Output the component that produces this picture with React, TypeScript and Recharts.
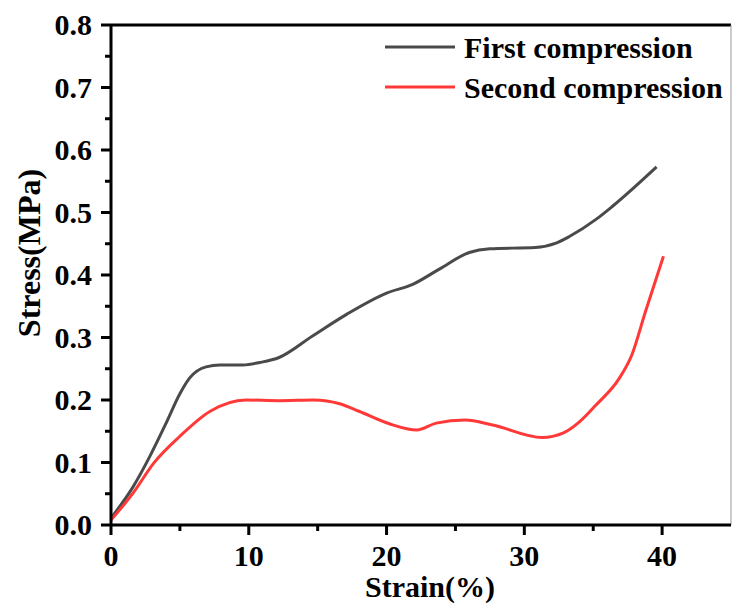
import React from 'react';
import { LineChart, Line, XAxis, YAxis, Legend, ReferenceLine } from 'recharts';

// strain (%) / stress (MPa)
const firstStrain = [0, 1.6, 2.8, 4.0, 5.0, 5.7, 6.9, 7.9, 9.6, 10.8, 12.2, 14.6, 17.1, 20.0, 21.9, 23.8, 26.0, 27.5, 30.8, 32.3, 33.3, 35.2, 36.4, 39.6];
const firstStress = [0.011, 0.061, 0.109, 0.163, 0.21, 0.235, 0.253, 0.256, 0.256, 0.26, 0.268, 0.302, 0.337, 0.371, 0.385, 0.409, 0.436, 0.442, 0.444, 0.451, 0.462, 0.489, 0.51, 0.573];

const secondStrain = [0, 1.6, 3.1, 5.0, 7.2, 9.8, 12.2, 14.7, 16.6, 18.0, 20.2, 22.2, 23.6, 25.7, 27.7, 31.3, 32.8, 34.0, 35.2, 36.9, 37.8, 38.8, 40.1];
const secondStress = [0.008, 0.051, 0.099, 0.142, 0.182, 0.2, 0.199, 0.2, 0.194, 0.182, 0.162, 0.152, 0.163, 0.168, 0.16, 0.14, 0.147, 0.165, 0.192, 0.235, 0.272, 0.342, 0.43];

const xTicks = [0, 5, 10, 15, 20, 25, 30, 35, 40];
const yTicks = [0, 0.05, 0.1, 0.15, 0.2, 0.25, 0.3, 0.35, 0.4, 0.45, 0.5, 0.55, 0.6, 0.65, 0.7, 0.75, 0.8];

const firstData = firstStrain.map((x, i) => ({ x, y: firstStress[i] }));
const secondData = secondStrain.map((x, i) => ({ x, y: secondStress[i] }));

const FONT = '"Liberation Serif", "Times New Roman", serif';
const BLACK_LINE = '#4a4a4a';
const RED_LINE = '#ff3838';

const XTick = (props: any) => {
  const { x, y, payload } = props;
  const major = payload.value % 10 === 0;
  return (
    <g>
      <line x1={x} y1={y} x2={x} y2={y + (major ? 10 : 6)} stroke="#000" strokeWidth={3} />
      {major && (
        <text x={x} y={y + 41} textAnchor="middle" fontFamily={FONT} fontWeight="bold" fontSize={30} fill="#000">
          {payload.value}
        </text>
      )}
    </g>
  );
};

const YTick = (props: any) => {
  const { x, y, payload } = props;
  const major = Math.round(payload.value * 100) % 10 === 0;
  return (
    <g>
      <line x1={x} y1={y} x2={x - (major ? 10 : 6)} y2={y} stroke="#000" strokeWidth={3} />
      {major && (
        <text x={x - 19} y={y + 10} textAnchor="end" fontFamily={FONT} fontWeight="bold" fontSize={30} fill="#000">
          {payload.value.toFixed(1)}
        </text>
      )}
    </g>
  );
};

const LegendBox = () => (
  <svg width={732} height={120}>
    <line x1={385} y1={47} x2={455} y2={47} stroke={BLACK_LINE} strokeWidth={3} />
    <text x={464} y={58} fontFamily={FONT} fontWeight="bold" fontSize={30} fill="#000">First compression</text>
    <line x1={385} y1={87} x2={455} y2={87} stroke={RED_LINE} strokeWidth={3} />
    <text x={464} y={98} fontFamily={FONT} fontWeight="bold" fontSize={30} fill="#000">Second compression</text>
  </svg>
);

export default function App() {
  return (
    <div style={{ position: 'absolute', left: 0, top: 0, width: 732, height: 605, background: '#fff' }}>
      <LineChart width={732} height={605} margin={{ top: 25, right: 1, left: 31, bottom: 30 }}>
        <XAxis
          type="number"
          dataKey="x"
          domain={[0, 45]}
          ticks={xTicks}
          height={50}
          tickSize={0}
          tickMargin={0}
          tickLine={false}
          tick={<XTick />}
          axisLine={{ stroke: '#000', strokeWidth: 3 }}
          allowDataOverflow
          label={{
            content: () => (
              <text x={430} y={597} textAnchor="middle" fontFamily={FONT} fontWeight="bold" fontSize={30} fill="#000">
                Strain(%)
              </text>
            ),
          }}
        />
        <YAxis
          type="number"
          dataKey="y"
          domain={[0, 0.8]}
          ticks={yTicks}
          width={80}
          tickSize={0}
          tickMargin={0}
          tickLine={false}
          tick={<YTick />}
          axisLine={{ stroke: '#000', strokeWidth: 3 }}
          allowDataOverflow
          label={{
            content: () => (
              <text
                x={40}
                y={253}
                transform="rotate(-90 40 253)"
                textAnchor="middle"
                fontFamily={FONT}
                fontWeight="bold"
                fontSize={32}
                fill="#000"
              >
                Stress(MPa)
              </text>
            ),
          }}
        />
        <ReferenceLine y={0.8} stroke="#000" strokeWidth={3} />
        <ReferenceLine x={45} stroke="#999" strokeWidth={1} />
        <Legend
          layout="horizontal"
          verticalAlign="middle"
          align="center"
          content={() => <LegendBox />}
          wrapperStyle={{ position: 'absolute', left: 0, top: 0, width: 732, height: 120 }}
        />
        <Line
          data={firstData}
          dataKey="y"
          type="monotone"
          stroke={BLACK_LINE}
          strokeWidth={3}
          dot={false}
          isAnimationActive={false}
        />
        <Line
          data={secondData}
          dataKey="y"
          type="monotone"
          stroke={RED_LINE}
          strokeWidth={3}
          dot={false}
          isAnimationActive={false}
        />
      </LineChart>
    </div>
  );
}
